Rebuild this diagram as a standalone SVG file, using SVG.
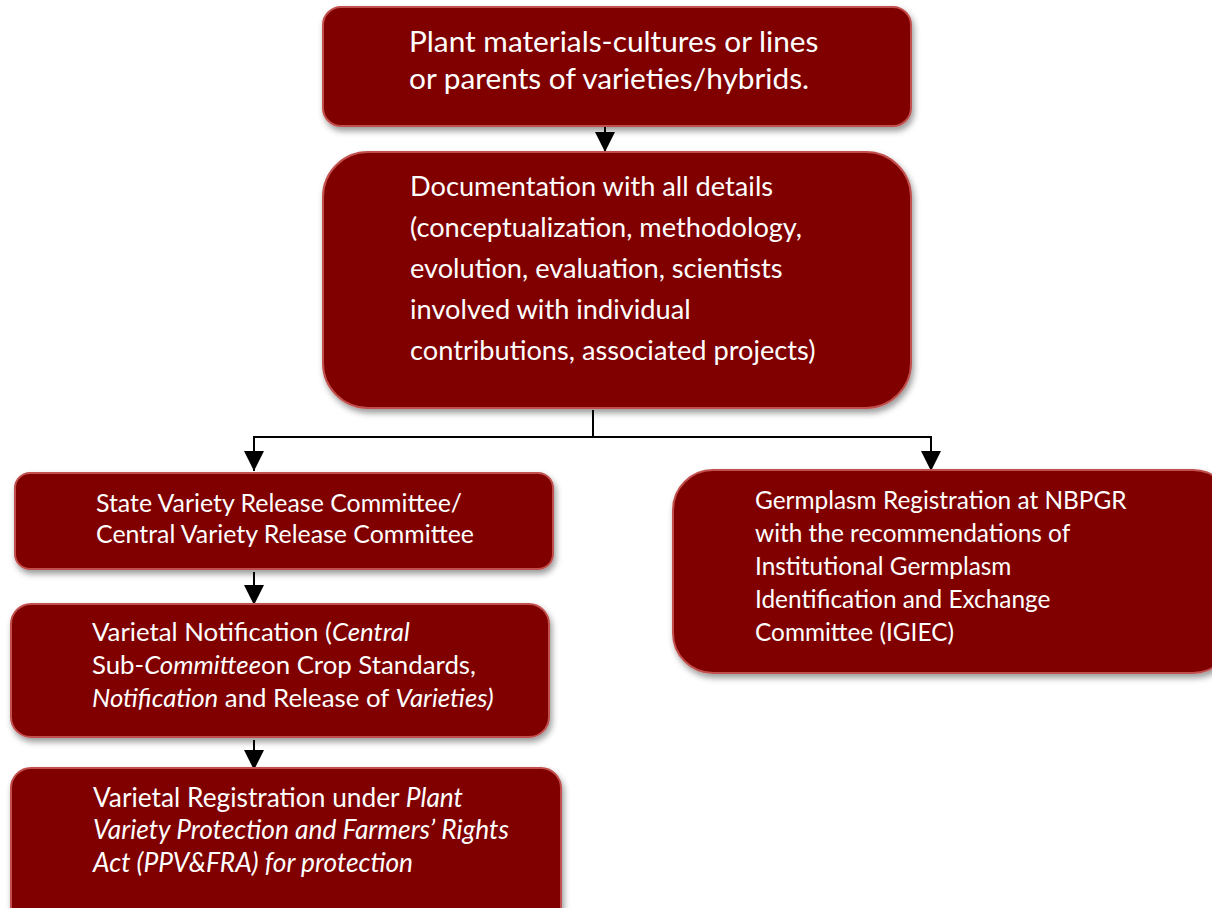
<svg xmlns="http://www.w3.org/2000/svg" width="1212" height="908" viewBox="0 0 1212 908">
<defs>
<filter id="sh" x="-10%" y="-10%" width="120%" height="130%">
<feDropShadow dx="2" dy="4" stdDeviation="3" flood-color="#000" flood-opacity="0.4"/>
</filter>
<marker id="ah" markerWidth="20" markerHeight="20" viewBox="0 0 20 20" refX="20" refY="10" orient="auto" markerUnits="userSpaceOnUse">
<path d="M0,0 L20,10 L0,20 Z" fill="#000"/>
</marker>
</defs>
<style>
.box{fill:#800000;stroke:#c0504d;stroke-width:2;filter:url(#sh)}
.t{font-family:Lato,"Open Sans","Liberation Sans",sans-serif;fill:#fff}
.i{font-style:italic}
.c{fill:none;stroke:#000;stroke-width:2}
</style>
<g id="connectors">
<path class="c" d="M605,127 V152" marker-end="url(#ah)"/>
<path class="c" d="M593,410 V437"/>
<path class="c" d="M254,437 H931"/>
<path class="c" d="M254,436 V471" marker-end="url(#ah)"/>
<path class="c" d="M931,436 V471" marker-end="url(#ah)"/>
<path class="c" d="M254,572 V605" marker-end="url(#ah)"/>
<path class="c" d="M254,740 V770" marker-end="url(#ah)"/>
</g>
<g id="n1">
<rect class="box" x="323" y="7" width="588" height="119" rx="18"/>
<text class="t" font-size="29.8"><tspan x="409" y="52">Plant materials-cultures or lines</tspan><tspan x="409" y="89">or parents of varieties/hybrids.</tspan></text>
</g>
<g id="n2">
<rect class="box" x="323" y="152" width="588" height="256" rx="45"/>
<text class="t" font-size="27.2"><tspan x="410" y="196">Documentation with all details</tspan><tspan x="410" y="237">(conceptualization, methodology,</tspan><tspan x="410" y="278">evolution, evaluation, scientists</tspan><tspan x="410" y="319">involved with individual</tspan><tspan x="410" y="360">contributions, associated projects)</tspan></text>
</g>
<g id="n3">
<rect class="box" x="15" y="473" width="538" height="96" rx="15"/>
<text class="t" font-size="24.9"><tspan x="96" y="512">State Variety Release Committee/</tspan><tspan x="96" y="543">Central Variety Release Committee</tspan></text>
</g>
<g id="n4">
<rect class="box" x="11" y="604" width="538" height="133" rx="20"/>
<text class="t" font-size="25.8"><tspan x="92" y="641">Varietal Notification (<tspan class="i">Central</tspan></tspan><tspan x="92" y="674">Sub-<tspan class="i">Committee</tspan>on Crop Standards,</tspan><tspan x="92" y="707"><tspan class="i">Notification</tspan> and Release of <tspan class="i">Varieties)</tspan></tspan></text>
</g>
<g id="n5">
<rect class="box" x="11" y="768" width="550" height="160" rx="20"/>
<text class="t" font-size="26.3"><tspan x="93" y="807">Varietal Registration under <tspan class="i">Plant</tspan></tspan><tspan x="93" y="839" class="i">Variety Protection and Farmers’ Rights</tspan><tspan x="93" y="872" class="i">Act (PPV&amp;FRA) for protection</tspan></text>
</g>
<g id="n6">
<rect class="box" x="673" y="470" width="560" height="203" rx="40"/>
<text class="t" font-size="24.4"><tspan x="755" y="509">Germplasm Registration at NBPGR</tspan><tspan x="755" y="542">with the recommendations of</tspan><tspan x="755" y="575">Institutional Germplasm</tspan><tspan x="755" y="608">Identification and Exchange</tspan><tspan x="755" y="641">Committee (IGIEC)</tspan></text>
</g>
</svg>
